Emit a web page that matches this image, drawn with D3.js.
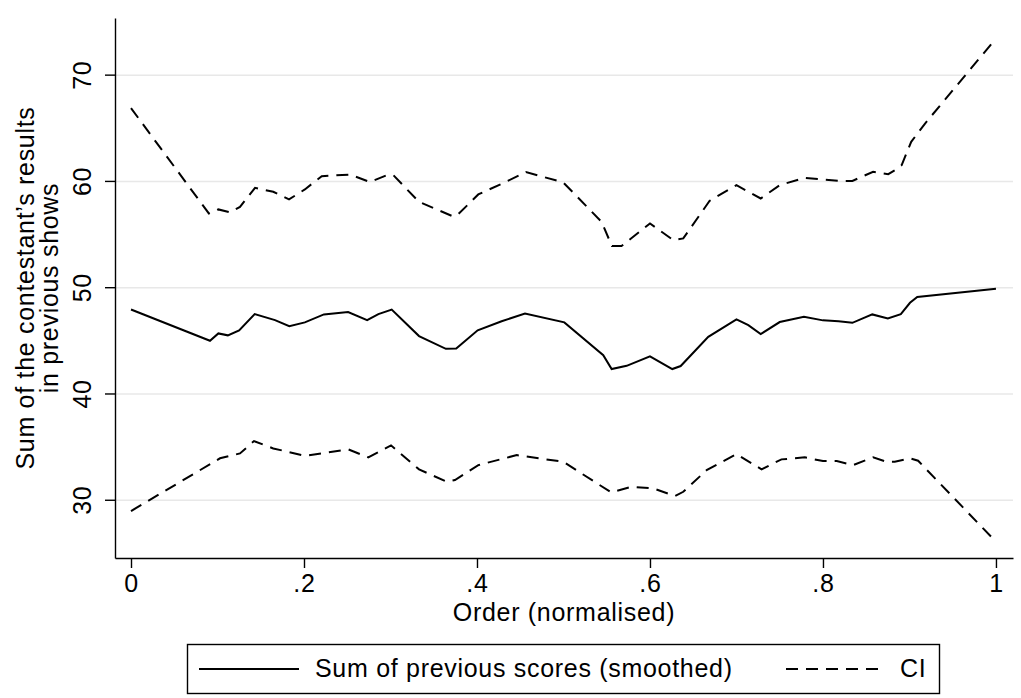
<!DOCTYPE html>
<html>
<head>
<meta charset="utf-8">
<script src="https://cdn.jsdelivr.net/npm/d3@7"></script>
<style>
  body { margin: 0; background: #fff; }
  svg { display: block; font-family: "Liberation Sans", Arial, Helvetica, sans-serif; }
  svg text { font-size: 25px; letter-spacing: 0.7px; fill: #000; }
  .grid line { stroke: #e8e8e8; stroke-width: 1.5; }
  .grid .domain { display: none; }
  .axis line, .axis path { stroke: #000; stroke-width: 1.4; }
</style>
</head>
<body>
<div id="chart"></div>
<script>
// smoothed sum of previous scores
const fitX = [0, 0.0913, 0.101, 0.112, 0.125, 0.143, 0.1665, 0.183, 0.201, 0.223, 0.251, 0.273,
  0.286, 0.3014, 0.333, 0.364, 0.376, 0.4008, 0.4285, 0.4555, 0.501, 0.546, 0.5557, 0.573,
  0.600, 0.6258, 0.6355, 0.6674, 0.700, 0.7137, 0.728, 0.750, 0.778, 0.800, 0.818, 0.834,
  0.857, 0.875, 0.890, 0.9006, 0.909, 1.0];
const fitY = [47.9, 44.96, 45.65, 45.47, 45.94, 47.47, 46.9, 46.34, 46.69, 47.44, 47.66, 46.9,
  47.47, 47.9, 45.4, 44.2, 44.24, 45.94, 46.8, 47.53, 46.69, 43.61, 42.3, 42.6,
  43.5, 42.3, 42.58, 45.33, 46.97, 46.43, 45.59, 46.72, 47.22, 46.88, 46.8, 46.65,
  47.44, 47.06, 47.47, 48.53, 49.07, 49.85];

// upper confidence bound
const upperX = [0, 0.090, 0.101, 0.1145, 0.126, 0.1434, 0.1645, 0.1827, 0.201, 0.2205, 0.253,
  0.2763, 0.2956, 0.3033, 0.333, 0.3707, 0.3765, 0.4015, 0.432, 0.4566, 0.4997, 0.544,
  0.556, 0.567, 0.600, 0.627, 0.6385, 0.669, 0.700, 0.728, 0.750, 0.779, 0.800, 0.8197,
  0.834, 0.858, 0.8755, 0.883, 0.891, 0.902, 0.918, 1.0];
const upperY = [66.85, 56.94, 57.32, 57.04, 57.56, 59.35, 58.98, 58.26, 59.2, 60.45, 60.6,
  59.9, 60.54, 60.54, 58.03, 56.72, 56.72, 58.73, 59.86, 60.83, 59.86, 56.15,
  53.87, 53.87, 56.0, 54.43, 54.59, 58.13, 59.6, 58.35, 59.6, 60.29, 60.14, 60.0,
  60.0, 60.86, 60.64, 61.0, 61.49, 63.68, 65.4, 73.4];

// lower confidence bound
const lowerX = [0, 0.1029, 0.126, 0.1422, 0.1645, 0.201, 0.2512, 0.2743, 0.3006, 0.333, 0.365,
  0.3746, 0.4015, 0.446, 0.4998, 0.555, 0.5788, 0.6038, 0.629, 0.6385, 0.6655, 0.700,
  0.729, 0.752, 0.779, 0.800, 0.816, 0.835, 0.858, 0.8736, 0.883, 0.9006, 0.910, 1.0];
const lowerY = [28.94, 33.9, 34.36, 35.52, 34.83, 34.14, 34.74, 33.99, 35.12, 32.86, 31.7,
  31.85, 33.26, 34.2, 33.57, 30.7, 31.22, 31.07, 30.35, 30.75, 32.79, 34.3,
  32.86, 33.8, 33.99, 33.64, 33.64, 33.26, 33.99, 33.57, 33.57, 33.9, 33.67, 26.05];

const xTicks = [0, 0.2, 0.4, 0.6, 0.8, 1];
const xTickLabels = ['0', '.2', '.4', '.6', '.8', '1'];
const yTicks = [30, 40, 50, 60, 70];

const seriesNames = ['Sum of previous scores (smoothed)', 'CI'];

const W = 1021;
const H = 698;
const plotLeft = 115;
const plotRight = 1013;
const plotTop = 18;
const plotBottom = 558;

const svg = d3.select('#chart')
  .append('svg')
  .attr('width', W)
  .attr('height', H);

const xScale = d3.scaleLinear()
  .domain([-0.0185, 1.0197])
  .range([plotLeft, plotRight]);
const yScale = d3.scaleLinear()
  .domain([24.52, 75.33])
  .range([plotBottom, plotTop]);

// horizontal gridlines
svg.append('g')
  .attr('class', 'grid')
  .attr('transform', `translate(${plotLeft},0)`)
  .call(d3.axisLeft(yScale)
    .tickValues(yTicks)
    .tickSize(-(plotRight - plotLeft))
    .tickFormat(''));

const line = d3.line()
  .x((d) => xScale(d[0]))
  .y((d) => yScale(d[1]));

const zip = (xs, ys) => xs.map((v, i) => [v, ys[i]]);

[zip(upperX, upperY), zip(lowerX, lowerY)].forEach((coords) => {
  svg.append('path')
    .datum(coords)
    .attr('fill', 'none')
    .attr('stroke', '#000')
    .attr('stroke-width', 2)
    .attr('stroke-dasharray', '12,8')
    .attr('d', line);
});

svg.append('path')
  .datum(zip(fitX, fitY))
  .attr('fill', 'none')
  .attr('stroke', '#000')
  .attr('stroke-width', 2)
  .attr('d', line);

// axes
const xAxis = svg.append('g')
  .attr('class', 'axis')
  .attr('transform', `translate(0,${plotBottom})`)
  .call(d3.axisBottom(xScale)
    .tickValues(xTicks)
    .tickSize(10)
    .tickSizeOuter(0)
    .tickFormat((d, i) => xTickLabels[i]));
xAxis.selectAll('text')
  .attr('y', 34)
  .attr('dy', null)
  .style('font-size', '25px');

const yAxis = svg.append('g')
  .attr('class', 'axis')
  .attr('transform', `translate(${plotLeft},0)`)
  .call(d3.axisLeft(yScale)
    .tickValues(yTicks)
    .tickSize(10)
    .tickSizeOuter(0)
    .tickFormat(d3.format('d')));
yAxis.selectAll('text')
  .attr('x', null)
  .attr('dy', null)
  .attr('transform', 'translate(-24,0) rotate(-90)')
  .attr('text-anchor', 'middle')
  .style('font-size', '25px');

// axis titles
svg.append('text')
  .attr('x', (plotLeft + plotRight) / 2)
  .attr('y', 621)
  .attr('text-anchor', 'middle')
  .text('Order (normalised)');

const yTitle = svg.append('text')
  .attr('transform', `translate(0,${(plotTop + plotBottom) / 2}) rotate(-90)`)
  .attr('text-anchor', 'middle');
yTitle.append('tspan').attr('x', 0).attr('y', 34).text('Sum of the contestant\u2019s results');
yTitle.append('tspan').attr('x', 0).attr('y', 58).text('in previous shows');

// legend
const legend = svg.append('g');
legend.append('rect')
  .attr('x', 187.5)
  .attr('y', 644.5)
  .attr('width', 752)
  .attr('height', 49)
  .attr('fill', '#fff')
  .attr('stroke', '#000')
  .attr('stroke-width', 1.4);
legend.append('line')
  .attr('x1', 199).attr('x2', 299)
  .attr('y1', 669).attr('y2', 669)
  .attr('stroke', '#000').attr('stroke-width', 2);
legend.append('text')
  .attr('x', 315).attr('y', 677)
  .text(seriesNames[0]);
legend.append('line')
  .attr('x1', 786).attr('x2', 886)
  .attr('y1', 669).attr('y2', 669)
  .attr('stroke', '#000').attr('stroke-width', 2)
  .attr('stroke-dasharray', '12,8');
legend.append('text')
  .attr('x', 900).attr('y', 677)
  .text(seriesNames[1]);
</script>
</body>
</html>
